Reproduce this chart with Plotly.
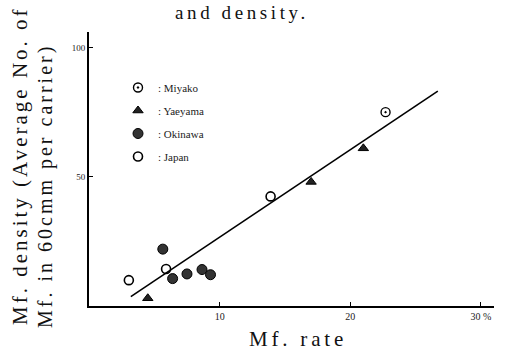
import plotly.graph_objects as go

# Data
miyako_x = [22.7]
miyako_y = [75.0]
yaeyama_x = [4.5, 17.0, 21.0]
yaeyama_y = [3.0, 48.0, 61.0]
okinawa_x = [5.65, 6.4, 7.5, 8.65, 9.3]
okinawa_y = [22.0, 10.6, 12.4, 14.1, 12.1]
japan_x = [3.05, 5.9, 13.9]
japan_y = [10.0, 14.3, 42.4]
line_x = [3.2, 26.7]
line_y = [3.6, 83.1]

x_tickvals = [10, 20, 30]
x_ticktext = ["10", "20", "30 %"]
y_tickvals = [50, 100]
y_ticktext = ["50", "100"]

title_font = "Liberation Serif"
small = "Liberation Serif"

fig = go.Figure()
fig.add_trace(go.Scatter(x=line_x, y=line_y, mode="lines",
                         line=dict(color="black", width=1.6),
                         showlegend=False, hoverinfo="skip"))
fig.add_trace(go.Scatter(x=miyako_x, y=miyako_y, mode="markers", name=": Miyako",
                         legendgroup="a",
                         marker=dict(symbol="circle-dot", size=9, color="white",
                                     line=dict(color="black", width=1.4))))
fig.add_trace(go.Scatter(x=yaeyama_x, y=yaeyama_y, mode="markers", name=": Yaeyama",
                         legendgroup="b",
                         marker=dict(symbol="triangle-up", size=9, color="#222",
                                     line=dict(color="black", width=1))))
fig.add_trace(go.Scatter(x=okinawa_x, y=okinawa_y, mode="markers", name=": Okinawa",
                         legendgroup="c",
                         marker=dict(symbol="circle", size=10, color="#333",
                                     line=dict(color="black", width=1))))
fig.add_trace(go.Scatter(x=japan_x, y=japan_y, mode="markers", name=": Japan",
                         legendgroup="d",
                         marker=dict(symbol="circle-open", size=9, color="black",
                                     line=dict(color="black", width=1.6))))

plot_h = 352 - 32 - 46
plot_w = 511 - 89 - 17

def px_to_paper_x(px):
    return (px - 89) / plot_w

def px_to_paper_y(py):
    return (352 - 46 - py) / plot_h

def spaced(text, px):
    return '<span style="letter-spacing:%spx">%s</span>' % (px, text)

fig.update_layout(
    width=511, height=352,
    margin=dict(l=89, r=17, t=32, b=46),
    plot_bgcolor="white", paper_bgcolor="white",
    font=dict(family=small, color="black", size=10),
    legend=dict(x=px_to_paper_x(118), y=px_to_paper_y(73), xanchor="left", yanchor="top",
                bgcolor="rgba(0,0,0,0)", borderwidth=0,
                font=dict(family=small, size=11, color="#222"),
                itemwidth=30, tracegroupgap=4, traceorder="grouped"),
)

fig.add_annotation(text=spaced("and density.", 3.6), x=px_to_paper_x(242), y=px_to_paper_y(12),
                   xref="paper", yref="paper", showarrow=False,
                   xanchor="center", yanchor="middle",
                   font=dict(family=title_font, size=19, color="#111"))
fig.add_annotation(text=spaced("Mf. rate", 3.8), x=px_to_paper_x(298), y=px_to_paper_y(339),
                   xref="paper", yref="paper", showarrow=False,
                   xanchor="center", yanchor="middle",
                   font=dict(family=title_font, size=21, color="#111"))
fig.add_annotation(text=spaced("Mf. density (Average No. of", 3), x=px_to_paper_x(20),
                   y=px_to_paper_y(166), xref="paper", yref="paper", showarrow=False,
                   xanchor="center", yanchor="middle", textangle=-90,
                   font=dict(family=title_font, size=21, color="#111"))
fig.add_annotation(text=spaced("Mf. in 60cmm per carrier)", 3), x=px_to_paper_x(45),
                   y=px_to_paper_y(186), xref="paper", yref="paper", showarrow=False,
                   xanchor="center", yanchor="middle", textangle=-90,
                   font=dict(family=title_font, size=20, color="#111"))

fig.update_xaxes(range=[0, 31], showgrid=False, zeroline=False,
                 showline=True, linecolor="black", linewidth=2,
                 ticks="inside", ticklen=4, tickcolor="black", tickwidth=1,
                 tickvals=x_tickvals, ticktext=x_ticktext,
                 tickfont=dict(family=small, size=10, color="#222"))
fig.update_yaxes(range=[0, 106], showgrid=False, zeroline=False,
                 showline=True, linecolor="black", linewidth=2,
                 ticks="inside", ticklen=4, tickcolor="black", tickwidth=1,
                 tickvals=y_tickvals, ticktext=y_ticktext,
                 tickfont=dict(family=small, size=9, color="#222"))

fig.write_html("out.html")
